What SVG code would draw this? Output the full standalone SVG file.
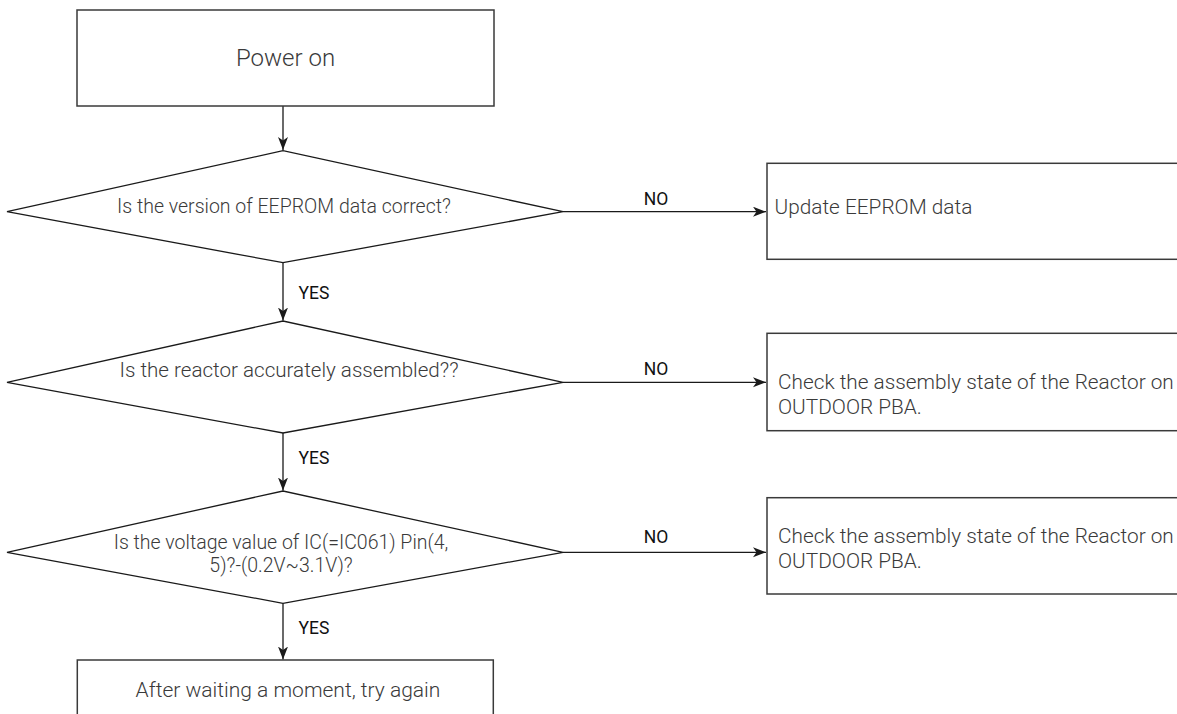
<svg xmlns="http://www.w3.org/2000/svg" width="1177" height="714" viewBox="0 0 1177 714">
  <style>
    .box { fill: #ffffff; stroke: #3a3a3a; stroke-width: 1.5; }
    .dia { fill: #ffffff; stroke: #1a1a1a; stroke-width: 1.3; }
    .conn { fill: none; stroke: #1a1a1a; stroke-width: 1.3; marker-end: url(#arrow); }
    .txt { font-family: Roboto, "Liberation Sans", sans-serif; font-weight: 300; fill: #3a3a3a; }
    .lbl { font-family: Roboto, "Liberation Sans", sans-serif; font-weight: 400; fill: #111111; font-size: 17.5px; }
  </style>
  <defs>
    <marker id="arrow" markerUnits="userSpaceOnUse" markerWidth="14" markerHeight="11" refX="13" refY="5" orient="auto">
      <path d="M0,0 L13,5 L0,10 L3.5,5 z" fill="#1a1a1a"/>
    </marker>
  </defs>
  <rect width="1177" height="714" fill="#ffffff"/>

  <g id="connectors">
    <line class="conn" x1="283" y1="106" x2="283" y2="150"/>
    <line class="conn" x1="563" y1="211.7" x2="766" y2="211.7"/>
    <line class="conn" x1="283" y1="262.7" x2="283" y2="320.5"/>
    <line class="conn" x1="563" y1="382.3" x2="766" y2="382.3"/>
    <line class="conn" x1="283" y1="433" x2="283" y2="490.5"/>
    <line class="conn" x1="563" y1="552.3" x2="766" y2="552.3"/>
    <line class="conn" x1="283" y1="603.3" x2="283" y2="659.5"/>
    <text class="lbl" x="656" y="205" text-anchor="middle">NO</text>
    <text class="lbl" x="656" y="375" text-anchor="middle">NO</text>
    <text class="lbl" x="656" y="543.3" text-anchor="middle">NO</text>
    <text class="lbl" x="298.5" y="299">YES</text>
    <text class="lbl" x="298.5" y="464">YES</text>
    <text class="lbl" x="298.5" y="634">YES</text>
  </g>

  <g id="power-on">
    <rect class="box" x="77" y="10" width="417" height="96"/>
    <text class="txt" x="285.5" y="66" font-size="24" text-anchor="middle">Power on</text>
  </g>

  <g id="check-eeprom">
    <polygon class="dia" points="7,211.7 283,150.7 563,211.7 283,262.7"/>
    <text class="txt" x="284" y="213.3" font-size="19.5" text-anchor="middle">Is the version of EEPROM data correct?</text>
  </g>

  <g id="update-eeprom">
    <rect class="box" x="767" y="163.3" width="430" height="96"/>
    <text class="txt" x="774.5" y="214" font-size="20.8">Update EEPROM data</text>
  </g>

  <g id="check-reactor">
    <polygon class="dia" points="7,382.3 283,321 563,382.3 283,433"/>
    <text class="txt" x="289" y="376.7" font-size="20.6" text-anchor="middle">Is the reactor accurately assembled??</text>
  </g>

  <g id="reactor-state-1">
    <rect class="box" x="767" y="333.3" width="430" height="97.4"/>
    <text class="txt" x="778" y="388.5" font-size="20.8">Check the assembly state of the Reactor on</text>
    <text class="txt" x="778" y="414" font-size="20.8">OUTDOOR PBA.</text>
  </g>

  <g id="check-voltage">
    <polygon class="dia" points="7,552.3 283,491 563,552.3 283,603.3"/>
    <text class="txt" x="281" y="549" font-size="19.5" text-anchor="middle">Is the voltage value of IC(=IC061) Pin(4,</text>
    <text class="txt" x="281" y="571.7" font-size="19.5" text-anchor="middle">5)?-(0.2V~3.1V)?</text>
  </g>

  <g id="reactor-state-2">
    <rect class="box" x="767" y="497.7" width="430" height="96.3"/>
    <text class="txt" x="778" y="542.7" font-size="20.8">Check the assembly state of the Reactor on</text>
    <text class="txt" x="778" y="568.2" font-size="20.8">OUTDOOR PBA.</text>
  </g>

  <g id="try-again">
    <rect class="box" x="77.3" y="660" width="416" height="80"/>
    <text class="txt" x="288" y="696.7" font-size="21" text-anchor="middle">After waiting a moment, try again</text>
  </g>
</svg>
